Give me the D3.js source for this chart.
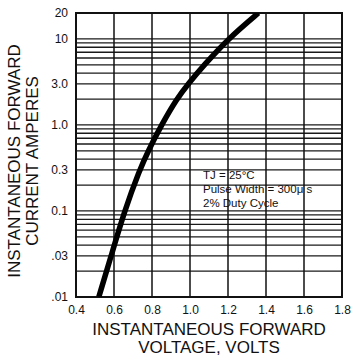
<!DOCTYPE html>
<html>
<head>
<meta charset="utf-8">
<script src="https://cdn.jsdelivr.net/npm/d3@7"></script>
<style>
  body { margin: 0; background: #fff; }
  svg { display: block; font-family: "Liberation Sans", Arial, sans-serif; }
</style>
</head>
<body>
<div id="chart"></div>
<script>
// forward voltage (V) vs current (A)
var voltage = [0.52, 0.585, 0.655, 0.735, 0.78, 0.85, 0.93, 0.99, 1.075, 1.2, 1.36];
var current = [0.01, 0.03, 0.1, 0.3, 0.5, 1.0, 2.0, 3.0, 5.0, 10, 20];

var xTicks = [0.4, 0.6, 0.8, 1.0, 1.2, 1.4, 1.6, 1.8];
var yTicks = [0.01, 0.03, 0.1, 0.3, 1, 3, 10, 20];
var yTickLabels = [".01", ".03", "0.1", "0.3", "1.0", "3.0", "10", "20"];

var notes = ["TJ = 25°C", "Pulse Width = 300\u03bc s", "2% Duty Cycle"];

var width = 354, height = 359;
var margin = {top: 13, right: 12, bottom: 62, left: 76};
var plotW = width - margin.left - margin.right;
var plotH = height - margin.top - margin.bottom;

var svg = d3.select("#chart").append("svg")
    .attr("width", width)
    .attr("height", height);

var g = svg.append("g")
    .attr("transform", "translate(" + margin.left + "," + margin.top + ")");

var x = d3.scaleLinear().domain([0.4, 1.8]).range([0, plotW]);
var y = d3.scaleLog().domain([0.01, 20]).range([plotH, 0]);

//grid: log minor lines and volt lines
g.append("g").selectAll("line")
    .data(y.ticks())
    .enter().append("line")
    .attr("x1", 0)
    .attr("x2", plotW)
    .attr("y1", function (d) { return y(d); })
    .attr("y2", function (d) { return y(d); })
    .attr("stroke", "#1a1a1a")
    .attr("stroke-width", 1.3);

g.append("g").selectAll("line")
    .data(xTicks)
    .enter().append("line")
    .attr("x1", function (d) { return x(d); })
    .attr("x2", function (d) { return x(d); })
    .attr("y1", 0)
    .attr("y2", plotH)
    .attr("stroke", "#111")
    .attr("stroke-width", 1.5);

g.append("rect")
    .attr("width", plotW)
    .attr("height", plotH)
    .attr("fill", "none")
    .attr("stroke", "#111")
    .attr("stroke-width", 2);

//tick labels
var yAxis = d3.axisLeft(y)
    .tickValues(yTicks)
    .tickSize(0)
    .tickPadding(8)
    .tickFormat(function (d, i) { return yTickLabels[i]; });

g.append("g").call(yAxis)
    .call(function (s) { s.select(".domain").remove(); })
    .selectAll("text")
    .attr("font-size", "12px")
    .attr("font-family", "Liberation Sans, Arial, sans-serif")
    .attr("fill", "#111");

var xAxis = d3.axisBottom(x)
    .tickValues(xTicks)
    .tickSize(0)
    .tickPadding(8)
    .tickFormat(d3.format(".1f"));

g.append("g")
    .attr("transform", "translate(0," + plotH + ")")
    .call(xAxis)
    .call(function (s) { s.select(".domain").remove(); })
    .selectAll("text")
    .attr("font-size", "12px")
    .attr("font-family", "Liberation Sans, Arial, sans-serif")
    .attr("fill", "#111");

//curve
svg.append("clipPath").attr("id", "plot-clip")
    .append("rect")
    .attr("width", plotW)
    .attr("height", plotH);

var line = d3.line()
    .x(function (d, i) { return x(voltage[i]); })
    .y(function (d) { return y(d); })
    .curve(d3.curveBasis);

g.append("path")
    .datum(current)
    .attr("clip-path", "url(#plot-clip)")
    .attr("d", line)
    .attr("fill", "none")
    .attr("stroke", "#000")
    .attr("stroke-width", 5.5);

//conditions note
g.append("g").selectAll("text")
    .data(notes)
    .enter().append("text")
    .attr("x", 127)
    .attr("y", function (d, i) { return 166 + i * 14; })
    .attr("font-size", "11.5px")
    .attr("fill", "#111")
    .text(function (d) { return d; });

//axis titles
var xTitle = svg.append("text")
    .attr("text-anchor", "middle")
    .attr("font-size", "17px")
    .attr("fill", "#111");
xTitle.append("tspan").attr("x", margin.left + plotW / 2).attr("y", 335).text("INSTANTANEOUS FORWARD");
xTitle.append("tspan").attr("x", margin.left + plotW / 2).attr("y", 353).text("VOLTAGE, VOLTS");

var yTitle = svg.append("text")
    .attr("text-anchor", "middle")
    .attr("font-size", "17px")
    .attr("fill", "#111")
    .attr("transform", "rotate(-90)");
yTitle.append("tspan").attr("x", -161).attr("y", 20).text("INSTANTANEOUS FORWARD");
yTitle.append("tspan").attr("x", -161).attr("y", 38).text("CURRENT AMPERES");
</script>
</body>
</html>
